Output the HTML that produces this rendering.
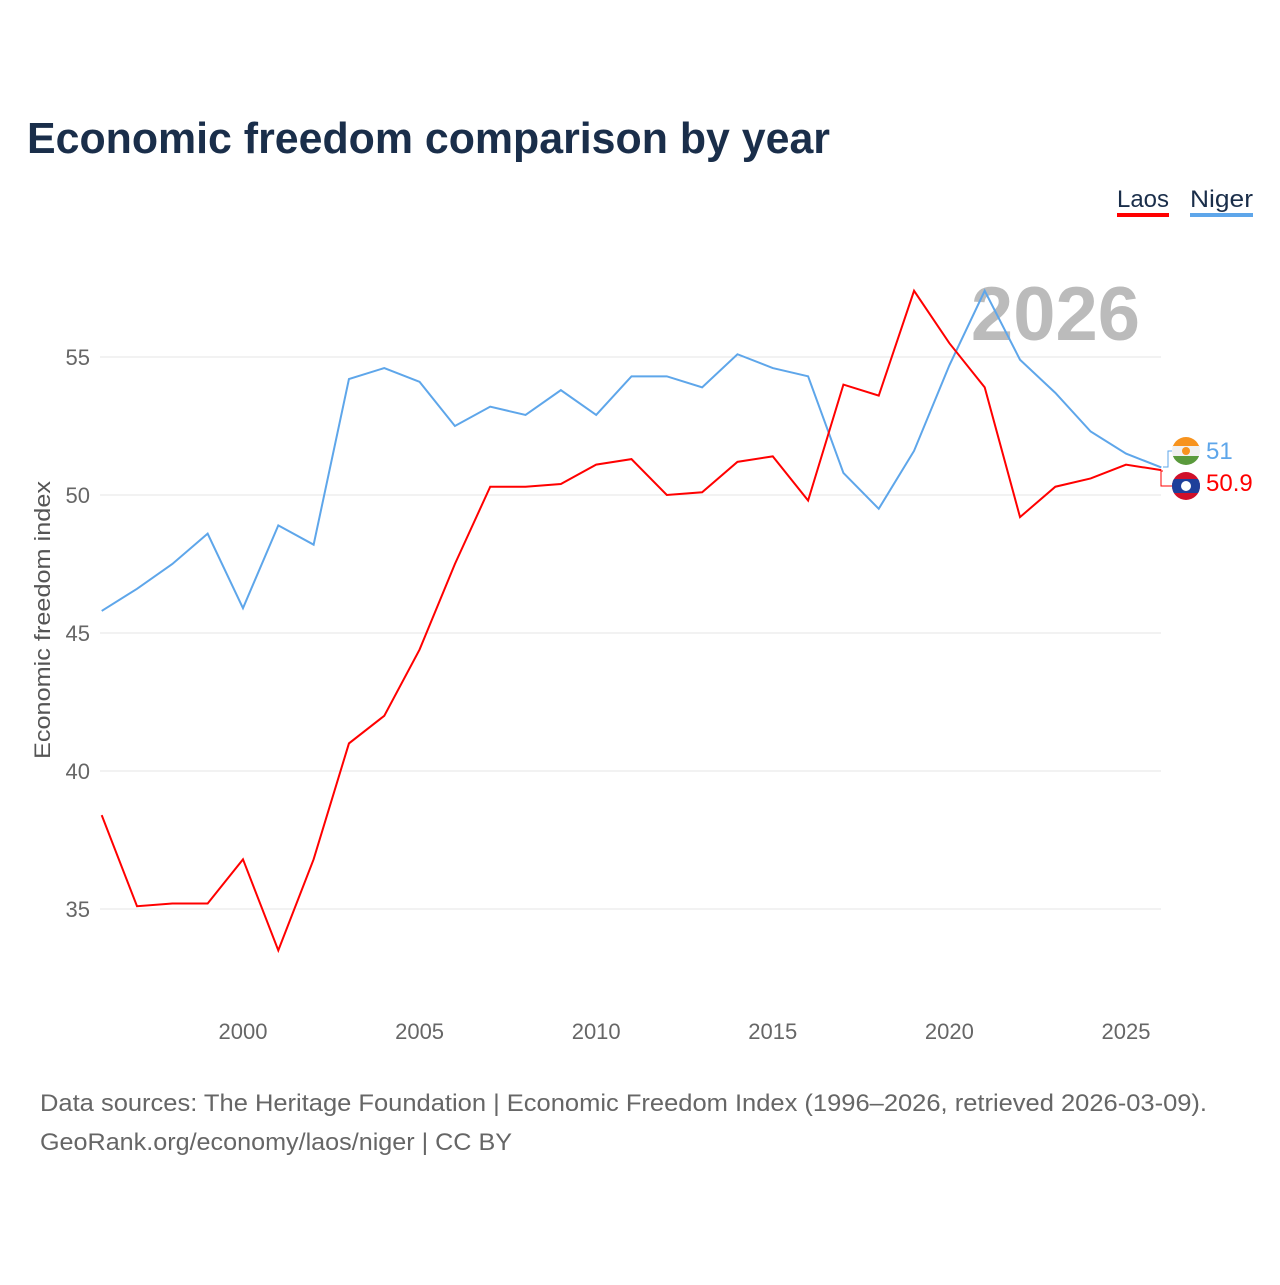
<!DOCTYPE html>
<html><head><meta charset="utf-8"><style>
body{margin:0;background:#fff;font-family:"Liberation Sans",sans-serif}
svg text{font-family:"Liberation Sans",sans-serif}
</style></head><body>
<svg width="1280" height="1280" id="chart">
<defs>
<clipPath id="c1"><circle cx="1186" cy="451" r="14"/></clipPath>
<clipPath id="c2"><circle cx="1186" cy="486" r="14"/></clipPath>
</defs>
<text x="27" y="153" font-size="44" font-weight="bold" fill="#1a2e4a" textLength="803" lengthAdjust="spacingAndGlyphs">Economic freedom comparison by year</text>
<g>
<text x="1117" y="207" font-size="24" fill="#1a2e4a" textLength="52" lengthAdjust="spacingAndGlyphs">Laos</text>
<rect x="1117" y="213" width="52" height="4" fill="#ff0000"/>
<text x="1190" y="207" font-size="24" fill="#1a2e4a" textLength="63" lengthAdjust="spacingAndGlyphs">Niger</text>
<rect x="1190" y="213" width="63" height="4" fill="#5ea6ea"/>
</g>
<text x="1140" y="340" font-size="76" font-weight="bold" fill="#bbbbbb" text-anchor="end">2026</text>
<g id="grid"></g><g id="xt"></g><g id="lines"></g>
<text transform="translate(50,620) rotate(-90)" font-size="22" fill="#555" text-anchor="middle" textLength="278" lengthAdjust="spacingAndGlyphs">Economic freedom index</text>
<g>
<g clip-path="url(#c1)">
<rect x="1172" y="437" width="28" height="10" fill="#f7931e"/>
<rect x="1172" y="446" width="28" height="10" fill="#f0f0f0"/>
<rect x="1172" y="456" width="28" height="10" fill="#5a9a3c"/>
<circle cx="1186" cy="451" r="4" fill="#f7931e"/>
</g>
<g clip-path="url(#c2)">
<rect x="1172" y="472" width="28" height="28" fill="#d0102a"/>
<rect x="1172" y="479" width="28" height="14" fill="#1e3f9a"/>
<circle cx="1186" cy="486" r="5" fill="#fff"/>
</g>
<text x="1206" y="459" font-size="24" fill="#5ea6ea">51</text>
<text x="1206" y="491" font-size="24" fill="#ff0000">50.9</text>
<polyline points="1163,467 1168,467 1168,451 1172,451" fill="none" stroke="#5ea6ea" stroke-width="1"/>
<polyline points="1163,471 1161,471 1161,486 1172,486" fill="none" stroke="#ff0000" stroke-width="1"/>
</g>
<text x="40" y="1111" font-size="24" fill="#666" textLength="1167" lengthAdjust="spacingAndGlyphs">Data sources: The Heritage Foundation | Economic Freedom Index (1996–2026, retrieved 2026-03-09).</text>
<text x="40" y="1150" font-size="24" fill="#666" textLength="472" lengthAdjust="spacingAndGlyphs">GeoRank.org/economy/laos/niger | CC BY</text>
</svg>
<script>
const years=[1996,1997,1998,1999,2000,2001,2002,2003,2004,2005,2006,2007,2008,2009,2010,2011,2012,2013,2014,2015,2016,2017,2018,2019,2020,2021,2022,2023,2024,2025,2026];
const niger=[45.8,46.6,47.5,48.6,45.9,48.9,48.2,54.2,54.6,54.1,52.5,53.2,52.9,53.8,52.9,54.3,54.3,53.9,55.1,54.6,54.3,50.8,49.5,51.6,54.7,57.4,54.9,53.7,52.3,51.5,51.0];
const laos=[38.4,35.1,35.2,35.2,36.8,33.5,36.8,41.0,42.0,44.4,47.5,50.3,50.3,50.4,51.1,51.3,50.0,50.1,51.2,51.4,49.8,54.0,53.6,57.4,55.5,53.9,49.2,50.3,50.6,51.1,50.9];
const yTicks=[35,40,45,50,55];
const xTicks=[2000,2005,2010,2015,2020,2025];
const NS="http://www.w3.org/2000/svg";
const X=y=>101.7+(y-1996)*35.32;
const Y=v=>495-(v-50)*27.6;
function mk(t,a,p){const e=document.createElementNS(NS,t);for(const k in a)e.setAttribute(k,a[k]);p.appendChild(e);return e;}
const g=document.getElementById('grid');
yTicks.forEach(v=>{
 const l=mk('line',{x1:100,x2:1161,y1:Y(v),y2:Y(v),stroke:'#e6e6e6','stroke-width':1},g);
 
 
 const t=mk('text',{x:90,y:Y(v)+8,'font-size':22,fill:'#666','text-anchor':'end'},g);t.textContent=v;
 
 
});
const xt=document.getElementById('xt');
xTicks.forEach(v=>{
 const t=mk('text',{x:X(v),y:1039,'font-size':22,fill:'#666','text-anchor':'middle'},xt);t.textContent=v;
 
 
});
const lg=document.getElementById('lines');
[[niger,'#5ea6ea','niger-line'],[laos,'#ff0000','laos-line']].forEach(([d,c,n])=>{
 const p=mk('polyline',{points:d.map((v,i)=>X(years[i])+','+Y(v)).join(' '),fill:'none',stroke:c,'stroke-width':2},lg);
 
 
});
</script>
</body></html>
